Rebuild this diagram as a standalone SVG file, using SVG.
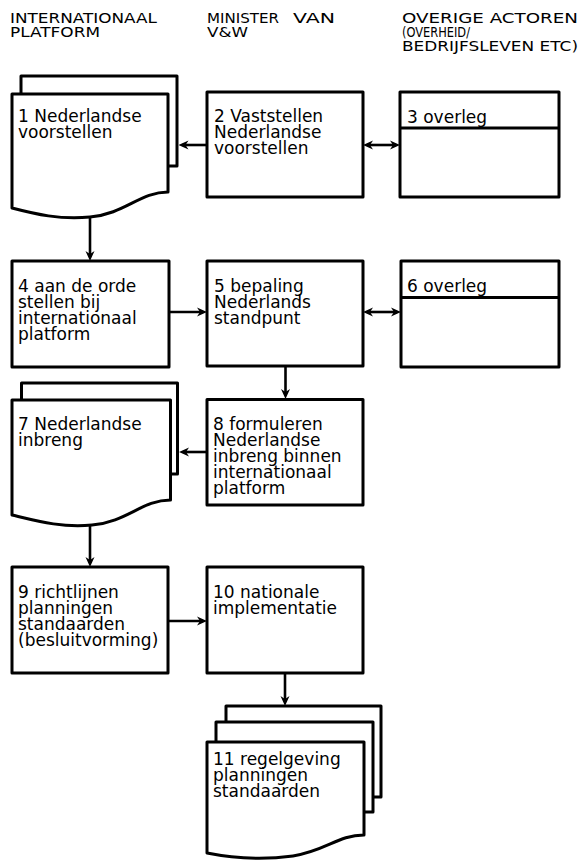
<svg xmlns="http://www.w3.org/2000/svg" width="580" height="865" viewBox="0 0 580 865">
<style>
.bg{fill:#fff}
.box{fill:#fff;stroke:#000;stroke-width:3;stroke-linejoin:round}
.pg{fill:none;stroke:#000;stroke-width:3;stroke-linejoin:round}
.con{fill:none;stroke:#000;stroke-width:2.6}
.t{font-family:"DejaVu Sans",sans-serif;font-size:17px;fill:#000}
.h{font-family:"DejaVu Sans",sans-serif;font-size:14.5px;fill:#000}
</style>
<defs>
<marker id="arr" viewBox="0 0 10 10" refX="6" refY="5" markerWidth="10" markerHeight="10" markerUnits="userSpaceOnUse" orient="auto-start-reverse">
<path d="M0,0.5 L10,5 L0,9.5 L3,5 Z" fill="#000"/>
</marker>
</defs>
<rect class="bg" x="0" y="0" width="580" height="865"/>
<g id="headers">
<text class="h" x="10" y="22.5" textLength="147" lengthAdjust="spacingAndGlyphs">INTERNATIONAAL</text>
<text class="h" x="10" y="36.5" textLength="90" lengthAdjust="spacingAndGlyphs">PLATFORM</text>
<text class="h" x="207" y="22.5" textLength="72" lengthAdjust="spacingAndGlyphs">MINISTER</text>
<text class="h" x="293" y="22.5" textLength="42" lengthAdjust="spacingAndGlyphs">VAN</text>
<text class="h" x="207" y="36.5" textLength="41" lengthAdjust="spacingAndGlyphs">V&amp;W</text>
<text class="h" x="402" y="22.5" textLength="176" lengthAdjust="spacingAndGlyphs">OVERIGE ACTOREN</text>
<text class="h" x="402" y="36.5" textLength="68" lengthAdjust="spacingAndGlyphs">(OVERHEID/</text>
<text class="h" x="402" y="50.5" textLength="176" lengthAdjust="spacingAndGlyphs">BEDRIJFSLEVEN ETC)</text>
</g>
<g id="connectors">
<path class="con" d="M207,145 H182.5" marker-end="url(#arr)"/>
<path class="con" d="M367,145 H396" marker-start="url(#arr)" marker-end="url(#arr)"/>
<path class="con" d="M90,216 V257" marker-end="url(#arr)"/>
<path class="con" d="M169,312 H203" marker-end="url(#arr)"/>
<path class="con" d="M367,312 H397" marker-start="url(#arr)" marker-end="url(#arr)"/>
<path class="con" d="M285.5,366 V395" marker-end="url(#arr)"/>
<path class="con" d="M207,452 H183" marker-end="url(#arr)"/>
<path class="con" d="M90,523 V563" marker-end="url(#arr)"/>
<path class="con" d="M168,621 H203" marker-end="url(#arr)"/>
<path class="con" d="M285,673 V702" marker-end="url(#arr)"/>
</g>
<g id="node1">
<path class="pg" d="M21,94 V76 H177 V166 H168"/>
<path class="box" d="M12,94 H168 V192 C140,192 125,214 90,217 C60,220 35,214 12,208 Z"/>
<text class="t" x="18" y="122">1 Nederlandse<tspan x="18" dy="16">voorstellen</tspan></text>
</g>
<g id="node2">
<rect class="box" x="207" y="92" width="156" height="105"/>
<text class="t" x="214" y="122">2 Vaststellen<tspan x="214" dy="16">Nederlandse</tspan><tspan x="214" dy="16">voorstellen</tspan></text>
</g>
<g id="node3">
<rect class="box" x="400" y="92" width="159" height="105"/>
<path class="pg" d="M400,128 H559"/>
<text class="t" x="407" y="123">3 overleg</text>
</g>
<g id="node4">
<rect class="box" x="12" y="261" width="157" height="106"/>
<text class="t" x="18" y="292">4 aan de orde<tspan x="18" dy="16">stellen bij</tspan><tspan x="18" dy="16">internationaal</tspan><tspan x="18" dy="16">platform</tspan></text>
</g>
<g id="node5">
<rect class="box" x="207" y="261" width="156" height="105"/>
<text class="t" x="214" y="292">5 bepaling<tspan x="214" dy="16">Nederlands</tspan><tspan x="214" dy="16">standpunt</tspan></text>
</g>
<g id="node6">
<rect class="box" x="401" y="261" width="158" height="106"/>
<path class="pg" d="M401,297.5 H559"/>
<text class="t" x="407" y="292">6 overleg</text>
</g>
<g id="node7">
<path class="pg" d="M21.5,400 V383 H177.5 V474 H170.5"/>
<path class="box" d="M12,400 H170.5 V500 C142,500 127,522 92,525 C62,528 37,521 12,515 Z"/>
<text class="t" x="18" y="430">7 Nederlandse<tspan x="18" dy="16">inbreng</tspan></text>
</g>
<g id="node8">
<rect class="box" x="207" y="399.5" width="156" height="105.5"/>
<text class="t" x="213" y="430">8 formuleren<tspan x="213" dy="16">Nederlandse</tspan><tspan x="213" dy="16">inbreng binnen</tspan><tspan x="213" dy="16">internationaal</tspan><tspan x="213" dy="16">platform</tspan></text>
</g>
<g id="node9">
<rect class="box" x="12" y="567" width="156" height="106"/>
<text class="t" x="18" y="598">9 richtlijnen<tspan x="18" dy="16">planningen</tspan><tspan x="18" dy="16">standaarden</tspan><tspan x="18" dy="16">(besluitvorming)</tspan></text>
</g>
<g id="node10">
<rect class="box" x="207" y="567" width="156" height="106"/>
<text class="t" x="213" y="598">10 nationale<tspan x="213" dy="16">implementatie</tspan></text>
</g>
<g id="node11">
<path class="pg" d="M226,722 V706 H381 V797 H373"/>
<path class="box" d="M216,742 V722 H373 V812 H364"/>
<path class="box" d="M207,742 H364 V835 C338,835 326,851 293,856 C262,860 232,858 207,853 Z"/>
<text class="t" x="213" y="765">11 regelgeving<tspan x="213" dy="16">planningen</tspan><tspan x="213" dy="16">standaarden</tspan></text>
</g>
</svg>
